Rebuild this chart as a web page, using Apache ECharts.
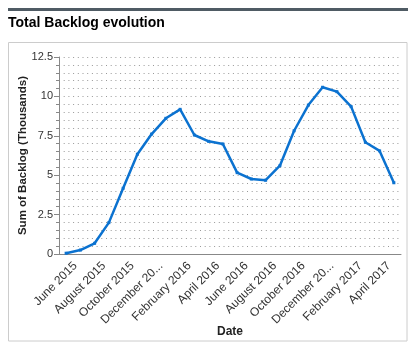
<!DOCTYPE html>
<html>
<head>
<meta charset="utf-8">
<script src="https://cdn.jsdelivr.net/npm/echarts@6/dist/echarts.min.js"></script>
<style>
html,body{margin:0;padding:0;background:#fff;}
#chart{width:419px;height:356px;}
</style>
</head>
<body>
<div id="chart"></div>
<script>
var months = ['May 2015','June 2015','July 2015','August 2015','September 2015','October 2015','November 2015','December 2015',
  'January 2016','February 2016','March 2016','April 2016','May 2016','June 2016','July 2016','August 2016',
  'September 2016','October 2016','November 2016','December 2016','January 2017','February 2017','March 2017','April 2017'];
var backlog = [0.05, 0.25, 0.68, 1.99, 4.17, 6.33, 7.61, 8.61, 9.18, 7.55, 7.15, 6.98,
  5.16, 4.76, 4.68, 5.60, 7.82, 9.45, 10.58, 10.30, 9.35, 7.09, 6.54, 4.52];
var yTicks = [0, 2.5, 5, 7.5, 10, 12.5];
var titleText = 'Total Backlog evolution';
var yName = 'Sum of Backlog (Thousands)';
var xName = 'Date';

var chart = echarts.init(document.getElementById('chart'), null, {renderer:'canvas'});
var everyOther = function (i) { return i % 2 === 1; };
chart.setOption({
  animation: false,
  title: {
    text: titleText, left: 8, top: 16, padding: 0,
    textStyle: {fontFamily: 'Liberation Sans, Arial, sans-serif', fontSize: 14, fontWeight: 'bold', color: '#000'}
  },
  graphic: [
    {type: 'rect', shape: {x: 8, y: 8, width: 400, height: 3}, style: {fill: '#4f5b64'}},
    {type: 'rect', shape: {x: 8.5, y: 42.5, width: 398.5, height: 298.5}, style: {fill: 'none', stroke: '#cccccc', lineWidth: 1}}
  ],
  grid: {left: 59, right: 18, top: 57, bottom: 102},
  xAxis: {
    type: 'category', data: months, boundaryGap: true,
    name: xName, nameLocation: 'middle', nameGap: 72, nameMoveOverlap: false,
    nameTextStyle: {fontFamily: 'Liberation Sans, Arial, sans-serif', fontSize: 12, fontWeight: 'bold', color: '#222'},
    axisLine: {lineStyle: {color: '#888', width: 1}},
    axisTick: {alignWithLabel: true, interval: everyOther, length: 5, lineStyle: {color: '#888'}},
    axisLabel: {
      interval: everyOther, rotate: 45, margin: 5, padding: [0, 7, 0, 0],
      fontFamily: 'Liberation Sans, Arial, sans-serif', fontSize: 12, color: '#333',
      width: 84, overflow: 'truncate', ellipsis: '...'
    },
    splitLine: {show: false}
  },
  yAxis: {
    type: 'value', min: yTicks[0], max: yTicks[yTicks.length - 1], interval: 2.5,
    name: yName, nameLocation: 'middle', nameGap: 30, nameMoveOverlap: false,
    nameTextStyle: {fontFamily: 'Liberation Sans, Arial, sans-serif', fontSize: 11.5, fontWeight: 'bold', color: '#222'},
    axisLine: {show: true, lineStyle: {color: '#888', width: 1}},
    axisTick: {show: true, length: 5, lineStyle: {color: '#888'}},
    minorTick: {show: true, splitNumber: 5, length: 3, lineStyle: {color: '#888'}},
    axisLabel: {fontFamily: 'Liberation Sans, Arial, sans-serif', fontSize: 11, color: '#333', margin: 6,
      formatter: function (v) { return String(v); }},
    splitLine: {show: true, lineStyle: {color: '#999', type: [1, 3.7], width: 1}},
    minorSplitLine: {show: true, lineStyle: {color: '#999', type: [1, 3.7], width: 1}}
  },
  series: [{
    type: 'line', data: backlog,
    lineStyle: {color: '#0b72d0', width: 2.5},
    itemStyle: {color: '#0b72d0'},
    symbol: 'rect', symbolSize: 3, showSymbol: true
  }]
});
</script>
</body>
</html>
